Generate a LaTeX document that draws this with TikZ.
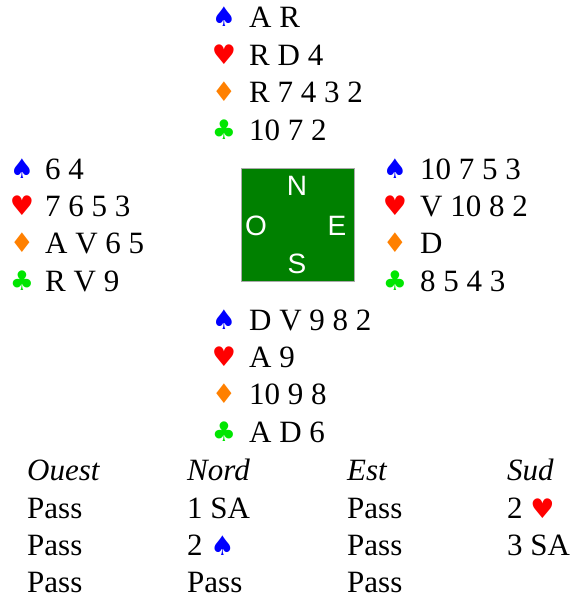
\documentclass[tikz,border=0pt]{standalone}
\usepackage{fontspec}
\setmainfont{Liberation Serif}
\newfontfamily\suitfont{DejaVu Sans}
\newfontfamily\boxfont{Liberation Sans}
\definecolor{spadec}{RGB}{0,0,255}
\definecolor{heartc}{RGB}{255,0,0}
\definecolor{diamc}{RGB}{255,128,0}
\definecolor{clubc}{RGB}{0,230,0}
\definecolor{feltc}{RGB}{0,128,0}
\definecolor{edgec}{RGB}{170,170,170}
\tikzset{
  card/.style={anchor=base west, inner sep=0pt, font=\fontsize{31}{31}\selectfont},
  bid/.style={card, text depth=0pt},
  hdr/.style={card, font=\fontsize{31}{31}\selectfont\itshape},
  suit/.style={inner sep=0pt, font=\suitfont\fontsize{27}{27}\selectfont},
  spade/.style={suit, text=spadec},
  heart/.style={suit, text=heartc},
  diam/.style={suit, text=diamc},
  club/.style={suit, text=clubc},
  compass/.style={inner sep=0pt, text=white, font=\boxfont\fontsize{28}{28}\selectfont},
}
\newcommand{\bidspade}{{\suitfont\fontsize{27}{27}\selectfont\color{spadec}♠}}
\newcommand{\bidheart}{{\suitfont\fontsize{27}{27}\selectfont\color{heartc}♥}}
\begin{document}
\begin{tikzpicture}[x=1pt,y=-1pt]
\useasboundingbox (0,0) rectangle (571,598);
% North
\node[spade] (ns) at (224,17) {♠};  \node[card] (nst) at (249,27) {A R};
\node[heart] (nh) at (224,55) {♥};  \node[card] (nht) at (249,65) {R D 4};
\node[diam]  (nd) at (224,92) {♦};  \node[card] (ndt) at (249,102) {R 7 4 3 2};
\node[club]  (nc) at (224,130) {♣}; \node[card] (nct) at (249,140) {10 7 2};
% West
\node[spade] (ws) at (22,169) {♠};  \node[card] (wst) at (45,179) {6 4};
\node[heart] (wh) at (22,206) {♥};  \node[card] (wht) at (45,216) {7 6 5 3};
\node[diam]  (wd) at (22,243) {♦};  \node[card] (wdt) at (45,253) {A V 6 5};
\node[club]  (wc) at (22,281) {♣};  \node[card] (wct) at (45,291) {R V 9};
% East
\node[spade] (es) at (395,169) {♠}; \node[card] (est) at (420,179) {10 7 5 3};
\node[heart] (eh) at (395,206) {♥}; \node[card] (eht) at (420,216) {V 10 8 2};
\node[diam]  (ed) at (395,243) {♦}; \node[card] (edt) at (420,253) {D};
\node[club]  (ec) at (395,281) {♣}; \node[card] (ect) at (420,291) {8 5 4 3};
% South
\node[spade] (ss) at (224,320) {♠}; \node[card] (sst) at (249,330) {D V 9 8 2};
\node[heart] (sh) at (224,357) {♥}; \node[card] (sht) at (249,367) {A 9};
\node[diam]  (sd) at (224,394) {♦}; \node[card] (sdt) at (249,404) {10 9 8};
\node[club]  (sc) at (224,432) {♣}; \node[card] (sct) at (249,442) {A D 6};
% Board
\node[draw=edgec, line width=1pt, fill=feltc, minimum size=113pt, inner sep=0pt] (board) at (297.5,224.5) {};
\node[compass] (bn) at (297,186) {N};
\node[compass] (bo) at (256,226) {O};
\node[compass] (be) at (337,226) {E};
\node[compass] (bs) at (297,264) {S};
% Auction
\node[hdr] (h1) at (27,480) {Ouest};
\node[hdr] (h2) at (187,480) {Nord};
\node[hdr] (h3) at (347,480) {Est};
\node[hdr] (h4) at (507,480) {Sud};
\node[bid] (a11) at (27,518) {Pass};
\node[bid] (a12) at (187,518) {1 SA};
\node[bid] (a13) at (347,518) {Pass};
\node[bid] (a14) at (507,518) {2 \bidheart};
\node[bid] (a21) at (27,555) {Pass};
\node[bid] (a22) at (187,555) {2 \bidspade};
\node[bid] (a23) at (347,555) {Pass};
\node[bid] (a24) at (507,555) {3 SA};
\node[bid] (a31) at (27,592) {Pass};
\node[bid] (a32) at (187,592) {Pass};
\node[bid] (a33) at (347,592) {Pass};
\end{tikzpicture}
\end{document}
